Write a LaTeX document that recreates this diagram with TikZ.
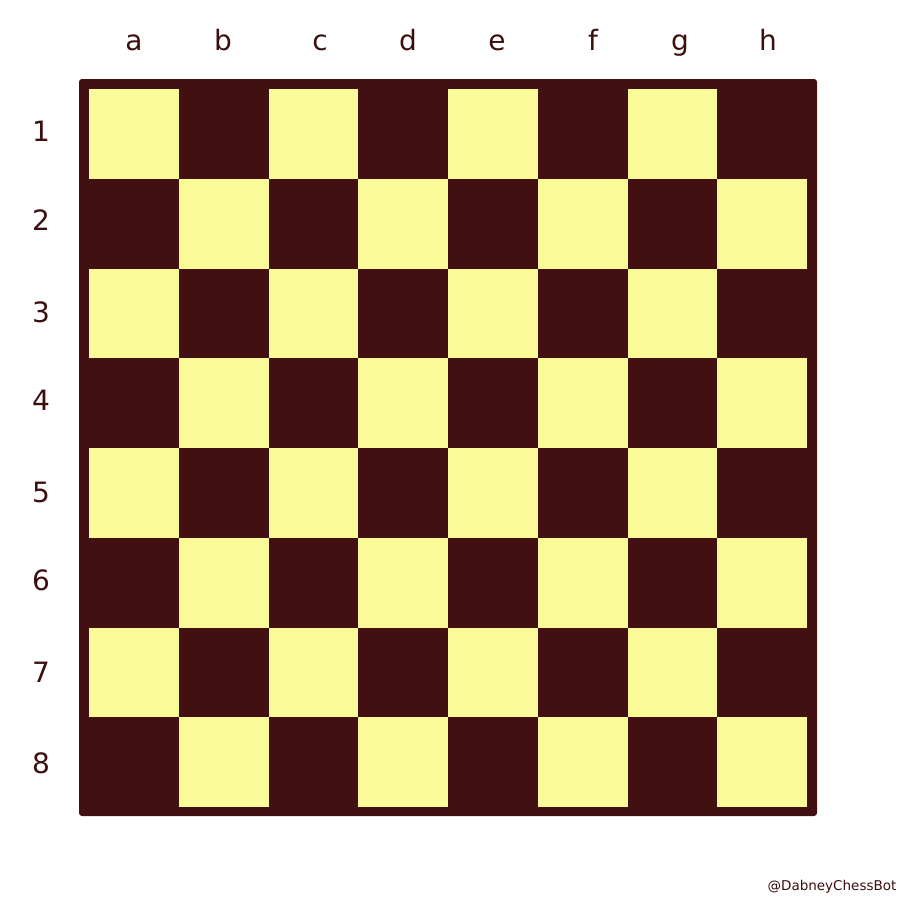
\documentclass[tikz,border=0pt]{standalone}
\usepackage{fontspec}
\setmainfont{DejaVu Sans}
\definecolor{darksq}{RGB}{66,16,16}
\definecolor{lightsq}{RGB}{250,250,152}
\definecolor{labelcol}{RGB}{60,14,14}
\begin{document}
\begin{tikzpicture}[x=1pt,y=-1pt,
  lbl/.style={text=labelcol,font=\fontsize{28}{28}\selectfont,inner sep=0pt}]
\useasboundingbox (0,0) rectangle (900,900);
\fill[white] (0,0) rectangle (900,900);
\fill[darksq,rounded corners=3pt] (79,79) rectangle (817,816);
\foreach \r in {0,...,7}{
  \foreach \c in {0,...,7}{
    \pgfmathtruncatemacro{\parity}{mod(\r+\c,2)}
    \ifnum\parity=0
      \fill[lightsq] ({89+\c*89.75},{89+\r*89.75}) rectangle ({89+(\c+1)*89.75},{89+(\r+1)*89.75});
    \fi
  }
}
\foreach \t/\x in {a/134,b/223,c/320,d/408,e/497,f/593,g/680,h/768}
  \node[lbl,anchor=base] (col\t) at (\x,50) {\t};
\foreach \t/\y in {1/131,2/220,3/312,4/400,5/492,6/580,7/672,8/763}
  \node[lbl] (row\t) at (41,\y) {\t};
\node[text=labelcol,font=\fontsize{13.5}{13.5}\selectfont,inner sep=0pt] (mark) at (832,887) {@DabneyChessBot};
\end{tikzpicture}
\end{document}
